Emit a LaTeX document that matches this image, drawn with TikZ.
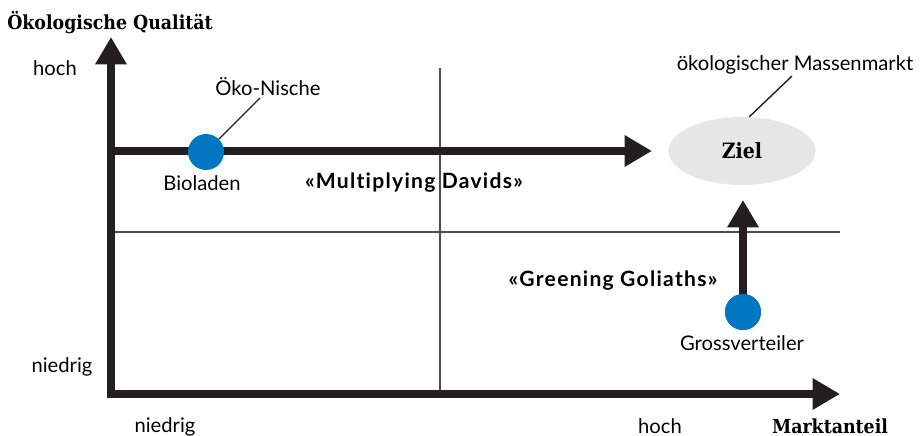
\documentclass[tikz,border=0pt]{standalone}
\usepackage{fontspec}
\setmainfont{Lato}
\newfontfamily\slabfont{DejaVu Serif Condensed}
\newfontfamily\stratfont{Lato}[LetterSpace=6, Ligatures=NoCommon]
\usetikzlibrary{arrows.meta,shapes.geometric}
\definecolor{axisblack}{HTML}{231F20}
\definecolor{dotblue}{HTML}{0077C0}
\definecolor{zielgray}{HTML}{E6E6E7}

\begin{document}
\begin{tikzpicture}[x=0.02cm, y=-0.02cm, font=\fontsize{11.5}{13}\selectfont,
  bigarrow/.style={line width=4.5pt, draw=axisblack, -{Triangle[length=0.55cm,width=0.6cm]}},
  thinline/.style={draw=black!70, line width=0.6pt},
  leader/.style={draw=axisblack, line width=0.8pt},
  dot/.style={circle, fill=dotblue, minimum size=0.72cm, inner sep=0pt},
  lbl/.style={inner sep=1pt},
  strat/.style={inner sep=1pt, font=\stratfont\bfseries\fontsize{12}{14}\selectfont},
  axistitle/.style={inner sep=1pt, font=\slabfont\bfseries\fontsize{11}{13}\selectfont}]

\useasboundingbox (0,0) rectangle (920,436);

% quadrant lines
\coordinate (qtop) at (440,68); \coordinate (qbottom) at (440,394);
\coordinate (qleft) at (115,232); \coordinate (qright) at (840,232);
\draw[thinline] (qtop) -- (qbottom);
\draw[thinline] (qleft) -- (qright);

% axes
\coordinate (ybase) at (111,398); \coordinate (ytip) at (111,37);
\coordinate (xbase) at (107,394); \coordinate (xtip) at (840,394);
\draw[bigarrow] (ybase) -- (ytip);
\draw[bigarrow] (xbase) -- (xtip);

\node[axistitle] (yname) at (110,23) {Ökologische Qualität};
\node[axistitle] (xname) at (830,426) {Marktanteil};
\node[lbl] (yhigh) at (55,68) {hoch};
\node[lbl] (ylow) at (62,367) {niedrig};
\node[lbl] (xlow) at (165,427) {niedrig};
\node[lbl] (xhigh) at (660,426) {hoch};

% goal
\node[ellipse, fill=zielgray, minimum width=2.94cm, minimum height=1.36cm, font=\slabfont\bfseries\fontsize{12}{14}\selectfont] (ziel) at (742,151) {Ziel};
\node[lbl] (massenmarkt) at (795,65) {ökologischer Massenmarkt};
\coordinate (massleader) at (792,76);
\draw[leader] (ziel.78) -- (massleader);

% Multiplying Davids
\coordinate (davidstart) at (111,151); \coordinate (davidtip) at (652,151);
\draw[bigarrow] (davidstart) -- (davidtip);
\node[dot] (bio) at (206,152) {};
\node[lbl] (bioladen) at (202,183) {Bioladen};
\node[lbl] (nische) at (268,87) {Öko-Nische};
\coordinate (nischeleader) at (260,98);
\draw[leader] (bio.north east) -- (nischeleader);
\node[strat] (davids) at (414,183) {«Multiplying Davids»};

% Greening Goliaths
\node[dot] (gross) at (743,312) {};
\coordinate (goliathtip) at (743,200);
\draw[bigarrow] (gross.center) -- (goliathtip);
\node[dot] at (gross) {};
\node[lbl] (grossverteiler) at (742,343) {Grossverteiler};
\node[strat] (goliaths) at (613,281) {«Greening Goliaths»};

\end{tikzpicture}
\end{document}
